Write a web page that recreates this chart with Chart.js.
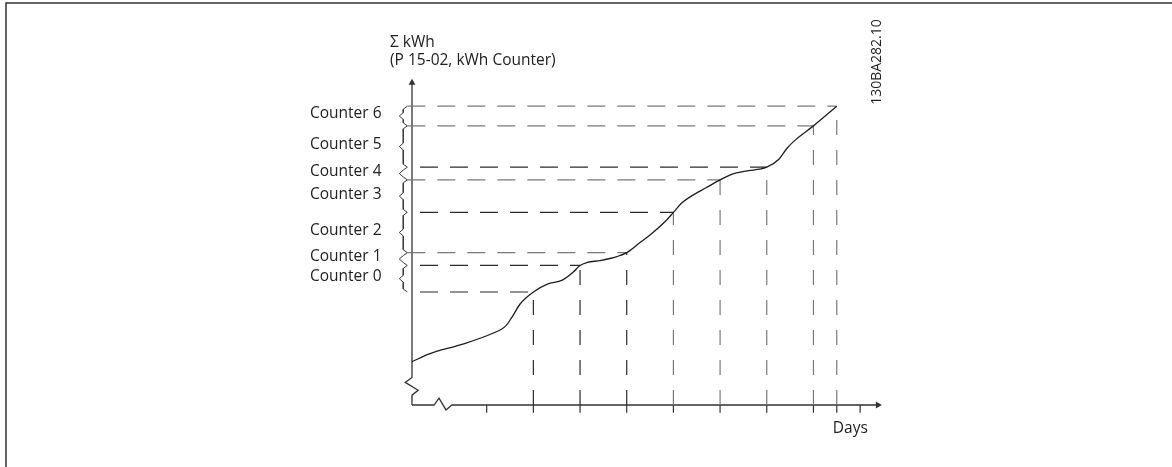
<!DOCTYPE html>
<html>
<head>
<meta charset="utf-8">
<script src="https://cdn.jsdelivr.net/npm/chart.js@4/dist/chart.umd.min.js"></script>
<style>
html,body{margin:0;padding:0;background:#fff;}
canvas{display:block;}
</style>
</head>
<body>
<canvas id="c" width="1172" height="467"></canvas>
<script>
// ---- data (days on x, accumulated kWh on y, arbitrary units) ----
const curveDays = [-0.6, -0.23, 0.49, 1.13, 1.4, 1.55, 1.72, 2.0, 2.3, 2.62, 2.85, 3.0, 3.15, 3.43, 3.79, 4.0, 4.28, 4.55, 4.85, 5.0, 5.19, 5.4, 5.7, 6.0, 6.26, 6.55, 7.0, 7.26, 7.43, 7.62, 8.0, 8.5];
const curveKWh  = [4.4, 5.2, 6.2, 7.3, 8.0, 9.0, 10.3, 11.5, 12.3, 12.7, 13.5, 14.2, 14.5, 14.7, 15.1, 15.5, 16.5, 17.5, 18.8, 19.6, 20.6, 21.3, 22.1, 22.9, 23.5, 23.8, 24.2, 25.0, 26.1, 27.0, 28.4, 30.4];
const counterLevels = [11.5, 14.2, 15.5, 19.6, 22.9, 24.2, 28.4, 30.4];
const levelDays     = [2, 3, 4, 5, 6, 7, 8, 8.5];
const counterNames  = ['Counter 0','Counter 1','Counter 2','Counter 3','Counter 4','Counter 5','Counter 6'];
const tickDays      = [1, 2, 3, 4, 5, 6, 7, 8, 8.5, 9];
const yTitle = ['\u03A3 kWh', '(P 15-02, kWh Counter)'];
const xTitle = 'Days';
const figId = '130BA282.10';

// ---- styles ----
const DARK = '#2a2a2a', GREY = '#7a7a7a';
const hColors = [DARK, DARK, GREY, DARK, GREY, DARK, GREY, GREY];
const vColors = [DARK, DARK, DARK, GREY, GREY, GREY, GREY, GREY];
const AXIS_X = -0.6;           // y-axis position in days
const BR_TIP = -0.70, BR_STEM = -0.787, BR_PT = -0.872;

const datasets = [];
const seg = (pts, color, width, dash, offset) => ({
  data: pts, borderColor: color, borderWidth: width, borderDash: dash || [],
  borderDashOffset: offset || 0, pointRadius: 0, fill: false, tension: 0
});

// curve
datasets.push({
  data: curveDays.map((d, i) => ({x: d, y: curveKWh[i]})),
  borderColor: '#1e1e1e', borderWidth: 1.3, pointRadius: 0, fill: false,
  cubicInterpolationMode: 'monotone'
});

// dashed reading lines
counterLevels.forEach((lv, i) => {
  const grey = hColors[i] === GREY;
  datasets.push(seg([{x: grey ? BR_TIP : AXIS_X, y: lv}, {x: levelDays[i], y: lv}], hColors[i], 1.2, [18, 12], grey ? 0 : 22));
  datasets.push(seg([{x: levelDays[i], y: 0}, {x: levelDays[i], y: lv}], vColors[i], 1.2, [15, 15], 0));
});

// braces
for (let i = 0; i < counterNames.length; i++) {
  const lo = counterLevels[i], hi = counterLevels[i + 1], mid = (lo + hi) / 2;
  datasets.push(seg([
    {x: BR_TIP, y: hi}, {x: BR_STEM, y: hi - 0.3}, {x: BR_STEM, y: mid + 0.35},
    {x: BR_PT, y: mid}, {x: BR_STEM, y: mid - 0.35}, {x: BR_STEM, y: lo + 0.3}, {x: BR_TIP, y: lo}
  ], '#3a3a3a', 1, null, 0));
}

// axes with breaks
datasets.push(seg([{x: AXIS_X, y: 0}, {x: -0.128, y: 0}, {x: -0.021, y: 0.7}, {x: 0.128, y: -0.5}, {x: 0.255, y: 0}, {x: 9.38, y: 0}], '#333', 1.3));
datasets.push(seg([{x: AXIS_X, y: 0}, {x: AXIS_X, y: 1.0}, {x: -0.468, y: 1.5}, {x: -0.745, y: 2.3}, {x: AXIS_X, y: 2.8}, {x: AXIS_X, y: 32.8}], '#333', 1.3));
// arrow heads
datasets.push({data: [{x: 9.38, y: 0}], pointStyle: 'triangle', rotation: 90, pointRadius: 4, pointBackgroundColor: '#333', pointBorderWidth: 0, showLine: false});
datasets.push({data: [{x: AXIS_X, y: 32.8}], pointStyle: 'triangle', rotation: 0, pointRadius: 4, pointBackgroundColor: '#333', pointBorderWidth: 0, showLine: false});
// tick marks
tickDays.forEach(d => datasets.push(seg([{x: d, y: 0}, {x: d, y: -0.8}], '#333', 1.2)));

const FONT = '15.5px "Open Sans", "Noto Sans", sans-serif';
const textPlugin = {
  id: 'texts',
  afterDraw(chart) {
    const ctx = chart.ctx, xs = chart.scales.x, ys = chart.scales.y;
    ctx.save();
    // frame
    ctx.strokeStyle = '#333'; ctx.lineWidth = 1.5;
    ctx.beginPath(); ctx.moveTo(6, 467); ctx.lineTo(6, 3); ctx.lineTo(1172, 3); ctx.stroke();
    ctx.fillStyle = '#222'; ctx.font = FONT; ctx.textBaseline = 'middle'; ctx.textAlign = 'left';
    counterNames.forEach((n, i) => {
      const mid = (counterLevels[i] + counterLevels[i + 1]) / 2;
      ctx.fillText(n, 310, ys.getPixelForValue(mid) - 2);
    });
    const ax = xs.getPixelForValue(AXIS_X);
    ctx.fillText(yTitle[0], ax - 22, 43);
    ctx.fillText(yTitle[1], ax - 22, 61);
    ctx.fillText(xTitle, xs.getPixelForValue(8.5) - 4, 429);
    ctx.save();
    ctx.translate(877, 62); ctx.rotate(-Math.PI / 2);
    ctx.font = '14px "Open Sans", "Noto Sans", sans-serif';
    ctx.textAlign = 'center';
    ctx.fillText(figId, 0, 0);
    ctx.restore();
    ctx.restore();
  }
};

new Chart(document.getElementById('c'), {
  type: 'line',
  data: {datasets},
  options: {
    responsive: false, animation: false, devicePixelRatio: 1, events: [],
    layout: {padding: 0},
    plugins: {legend: {display: false}, tooltip: {enabled: false}},
    scales: {
      x: {type: 'linear', display: false, min: -9.3404, max: 15.5957},
      y: {type: 'linear', display: false, min: -5.9, max: 40.8}
    }
  },
  plugins: [textPlugin]
});
</script>
</body>
</html>
